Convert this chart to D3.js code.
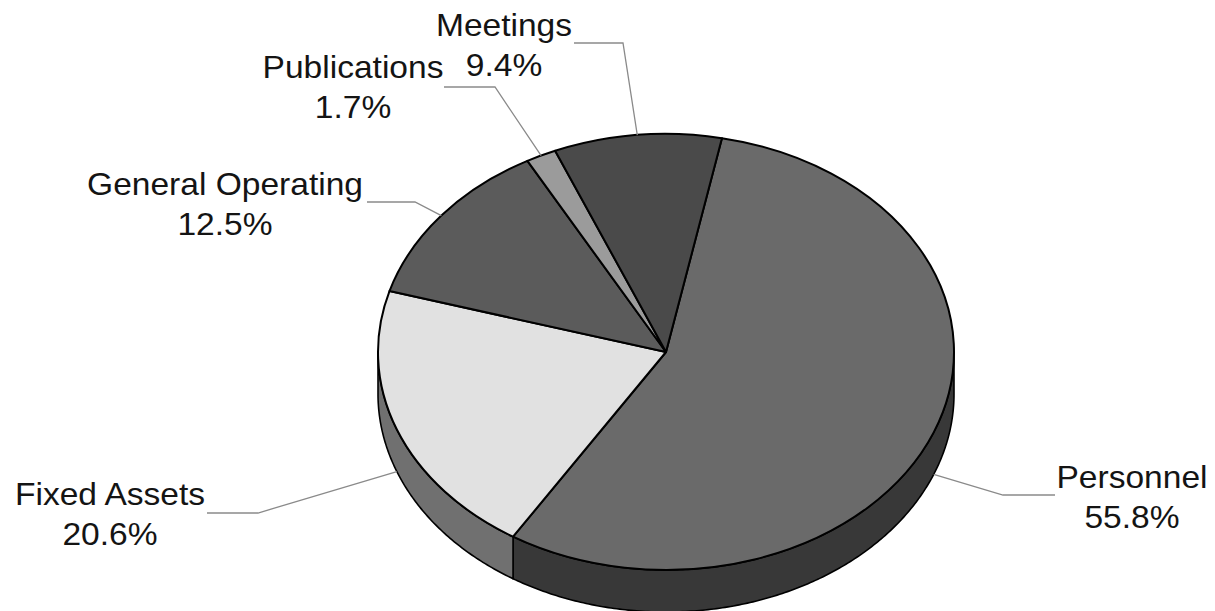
<!DOCTYPE html>
<html>
<head>
<meta charset="utf-8">
<script src="https://cdn.jsdelivr.net/npm/d3@7"></script>
<style>
  html, body { margin: 0; padding: 0; background: #ffffff; }
  svg { display: block; }
</style>
</head>
<body>
<svg id="chart" width="1215" height="611"></svg>
<script>
// Budget breakdown, in drawing order (clockwise from the first slice)
const categories = ["Personnel", "Fixed Assets", "General Operating", "Publications", "Meetings"];
const shares = [55.8, 20.6, 12.5, 1.7, 9.4];
const percentLabels = ["55.8%", "20.6%", "12.5%", "1.7%", "9.4%"];

// Styling per slice: top face and side wall greys
const topFill = ["#6a6a6a", "#e1e1e1", "#5b5b5b", "#9b9b9b", "#4a4a4a"];
const sideFill = ["#383838", "#707070", "#2e2e2e", "#4d4d4d", "#262626"];

// Label placement: text centre, first baseline, leader elbow
const labelLayout = {
  "Personnel":         { x: 1132, y: 488, lineStart: 1055, elbow: 1003, lineY: 495 },
  "Fixed Assets":      { x: 110,  y: 505, lineStart: 207,  elbow: 258,  lineY: 513 },
  "General Operating": { x: 225,  y: 195, lineStart: 367,  elbow: 415,  lineY: 202 },
  "Publications":      { x: 353,  y: 78,  lineStart: 444,  elbow: 495,  lineY: 87 },
  "Meetings":          { x: 504,  y: 36,  lineStart: 574,  elbow: 623,  lineY: 43 }
};

// Pie geometry (tilted disc)
const cx = 666, cy = 352, rx = 288, ry = 218, depth = 42;
const firstSliceAngle = 11.2 * Math.PI / 180;
const TAU = Math.PI * 2;

const svg = d3.select("#chart");

const pie = d3.pie()
  .sort(null)
  .value(d => d)
  .startAngle(firstSliceAngle)
  .endAngle(firstSliceAngle + TAU);
const slices = pie(shares);

// Point on the rim of the disc at angle a (0 = 12 o'clock, clockwise), dz below the top face
const rim = (a, dz = 0) => [cx + rx * Math.sin(a), cy - ry * Math.cos(a) + dz];
const rimRun = (a0, a1, dz) => {
  const n = Math.max(2, Math.ceil(Math.abs(a1 - a0) / 0.01));
  return d3.range(n + 1).map(i => rim(a0 + (a1 - a0) * i / n, dz));
};
const line = d3.line();

// Front-facing part of the wall spans angles from 90deg to 270deg
function frontPart(a0, a1) {
  const parts = [];
  for (let k = -1; k <= 1; k++) {
    const lo = Math.max(a0, Math.PI / 2 + k * TAU);
    const hi = Math.min(a1, 3 * Math.PI / 2 + k * TAU);
    if (hi > lo) parts.push([lo, hi]);
  }
  return parts;
}

// Side walls
const walls = svg.append("g").attr("class", "walls");
slices.forEach((s, i) => {
  frontPart(s.startAngle, s.endAngle).forEach(([lo, hi]) => {
    const pts = rimRun(lo, hi, 0).concat(rimRun(hi, lo, depth));
    walls.append("path")
      .attr("d", line(pts) + "Z")
      .attr("fill", sideFill[i])
      .attr("stroke", "#000")
      .attr("stroke-width", 1.6)
      .attr("stroke-linejoin", "round");
  });
});

// Top faces: circular arcs squashed into the tilted ellipse
const arc = d3.arc().innerRadius(0).outerRadius(rx);
const tops = svg.append("g")
  .attr("class", "tops")
  .attr("transform", `translate(${cx},${cy}) scale(1,${ry / rx})`);
tops.selectAll("path")
  .data(slices)
  .join("path")
  .attr("d", arc)
  .attr("fill", (d, i) => topFill[i])
  .attr("stroke", "#000")
  .attr("stroke-width", 2)
  .attr("stroke-linejoin", "round")
  .attr("vector-effect", "non-scaling-stroke");

// Leader lines and labels
const labels = svg.append("g").attr("class", "labels");
slices.forEach((s, i) => {
  const name = categories[i];
  const L = labelLayout[name];
  const mid = (s.startAngle + s.endAngle) / 2;
  const m = ((mid % TAU) + TAU) % TAU;
  const isFront = m > Math.PI / 2 && m < 3 * Math.PI / 2;
  const anchor = rim(mid, isFront ? depth : 0);

  labels.append("path")
    .attr("d", line([[L.lineStart, L.lineY], [L.elbow, L.lineY], anchor]))
    .attr("fill", "none")
    .attr("stroke", "#8a8a8a")
    .attr("stroke-width", 1.3);

  const g = labels.append("g")
    .attr("transform", `translate(${L.x},${L.y}) scale(1.1,1)`)
    .attr("font-family", "'Liberation Sans', Arial, Helvetica, sans-serif")
    .attr("font-size", 30.5)
    .attr("fill", "#141414")
    .attr("text-anchor", "middle");
  g.append("text").attr("x", 0).attr("y", 0).text(name);
  g.append("text").attr("x", 0).attr("y", 40).text(percentLabels[i]);
});
</script>
</body>
</html>
